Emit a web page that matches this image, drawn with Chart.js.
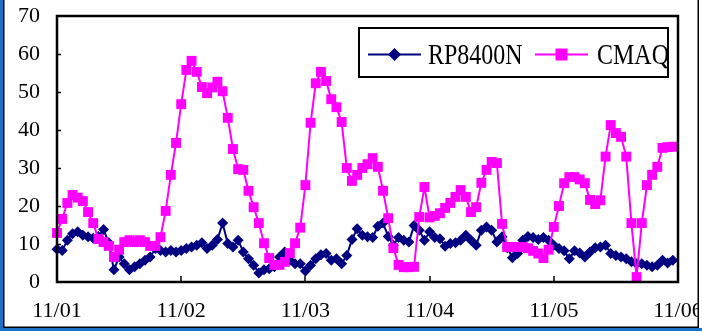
<!DOCTYPE html>
<html>
<head>
<meta charset="utf-8">
<script src="https://cdn.jsdelivr.net/npm/chart.js@4"></script>
<style>
  html, body { margin: 0; padding: 0; background: #fff; }
  canvas { display: block; }
</style>
</head>
<body>
<canvas id="chart" width="702" height="331"></canvas>
<script>
// hourly values, 11/01 00:00 .. 11/05 23:00
const rp8400n = [
  8.6, 8.3, 11, 12.7, 13.2, 12.3, 11.9, 11.5, 12, 13.8, 10.3, 3.2, 6.6, 4.8, 3.2, 4, 4.8, 5.7, 6.6, 8.8, 8.3, 7.9, 8.3, 7.9,
  8.3, 8.8, 9.2, 9.7, 10.3, 8.8, 9.7, 11.2, 15.5, 10.1, 9.2, 11, 7.9, 6.1, 4.4, 2.4, 3.2, 3.5, 4, 6.6, 7.9, 5.7, 4.8, 4.8,
  2.9, 4.4, 6.1, 7.2, 7.5, 5.7, 6.1, 4.8, 7, 11.2, 14, 12.3, 11.9, 11.7, 14.7, 15.5, 12, 9.7, 11.7, 11, 10.5, 14.9, 13.6, 11,
  13.2, 11.7, 11.4, 9.4, 10.1, 10.3, 11, 12.3, 11, 9.7, 13.6, 14.5, 13.6, 10.5, 11.9, 9, 6.4, 7.5, 11, 12, 11.7, 11.2, 11.7, 11,
  9.7, 8.8, 8.2, 6.1, 8.2, 7.6, 6.6, 7.9, 9, 9.2, 9.7, 7.5, 7, 6.6, 6.1, 5.3, 4.8, 4.8, 4.4, 4, 4.4, 5.7, 5, 5.7
];
const cmaq = [
  12.9, 16.6, 20.8, 22.9, 22.2, 21.3, 18.4, 15.5, 11.3, 10.5, 9.5, 6.6, 8.5, 10.5, 11, 10.5, 11, 10.5, 9.5, 9.5, 11.8, 18.7, 28.2, 36.6,
  46.8, 55.8, 58.2, 55.3, 51.3, 49.7, 51.2, 52.7, 50.2, 43.2, 35, 29.7, 29.5, 24, 19.7, 15.5, 10.2, 6.3, 4.5, 4.5, 5.3, 7.6, 10.2, 14.3,
  25.5, 41.9, 52.3, 55.3, 52.9, 48.1, 46, 42.1, 30, 26.6, 28.2, 30, 31, 32.6, 30.3, 24, 16.8, 8.9, 4.5, 3.9, 3.9, 4, 17.1, 25,
  17, 17.4, 18.1, 19.5, 20.8, 22.4, 24.2, 22.4, 18.4, 19.7, 26.1, 29.5, 31.6, 31.3, 15.3, 9.2, 9.2, 9.2, 9.2, 8.9, 8.2, 7.5, 6.3, 8.5,
  14.5, 20, 26, 27.6, 27.6, 27, 26, 21.6, 20.5, 21.5, 33, 41.3, 39.2, 38.2, 33, 15.5, 1.3, 15.5, 25.5, 28.2, 30.3, 35.3, 35.5, 35.6
];
const dayLabels = ['11/01', '11/02', '11/03', '11/04', '11/05', '11/06'];
const seriesNames = ['RP8400N', 'CMAQ'];

const serif = '"Liberation Serif", "Times New Roman", serif';

// plot border, inward tick marks, legend box and the picture frame
const decor = {
  id: 'decor',
  afterDraw(chart) {
    const ctx = chart.ctx;
    const a = chart.chartArea;
    const xs = chart.scales.x, ys = chart.scales.y;
    ctx.save();

    // inward ticks
    ctx.strokeStyle = '#000';
    ctx.lineWidth = 1.5;
    ctx.beginPath();
    ys.ticks.forEach(t => {
      if (t.value <= 0 || t.value >= 70) return;
      const y = Math.round(ys.getPixelForValue(t.value)) + 0.5;
      ctx.moveTo(a.left, y); ctx.lineTo(a.left + 4, y);
    });
    xs.ticks.forEach(t => {
      if (t.value <= 0 || t.value >= 120) return;
      const x = Math.round(xs.getPixelForValue(t.value));
      ctx.moveTo(x, a.bottom); ctx.lineTo(x, a.bottom - 6);
    });
    ctx.stroke();

    // plot border
    ctx.lineWidth = 2.5;
    ctx.strokeRect(a.left, a.top, a.right - a.left, a.bottom - a.top);

    // legend
    const lx = 359, ly = 28, lw = 309, lh = 49;
    ctx.fillStyle = '#fff';
    ctx.fillRect(lx, ly, lw, lh);
    ctx.lineWidth = 2;
    ctx.strokeRect(lx, ly, lw, lh);
    const items = [
      { x0: 368, x1: 421, mx: 394.5, tx: 428 },
      { x0: 535, x1: 588, mx: 561.5, tx: 597 }
    ];
    chart.data.datasets.forEach((ds, i) => {
      const it = items[i];
      const cy = 54.5;
      ctx.strokeStyle = ds.borderColor;
      ctx.lineWidth = 2;
      ctx.beginPath();
      ctx.moveTo(it.x0, cy); ctx.lineTo(it.x1, cy);
      ctx.stroke();
      ctx.fillStyle = ds.borderColor;
      ctx.beginPath();
      if (ds.pointStyle === 'rectRot') {
        const r = 6.5;
        ctx.moveTo(it.mx, cy - r); ctx.lineTo(it.mx + r, cy);
        ctx.lineTo(it.mx, cy + r); ctx.lineTo(it.mx - r, cy);
        ctx.closePath();
      } else {
        ctx.rect(it.mx - 6, cy - 6, 12, 12);
      }
      ctx.fill();
      ctx.save();
      ctx.translate(it.tx, 64);
      ctx.scale(0.8, 1);
      ctx.fillStyle = '#000';
      ctx.font = '30px ' + serif;
      ctx.textBaseline = 'alphabetic';
      ctx.fillText(ds.label, 0, 0);
      ctx.restore();
    });

    // outer frame
    ctx.fillStyle = '#fff';
    ctx.fillRect(699, 0, 3, 331);
    ctx.fillStyle = '#000';
    ctx.fillRect(3, 0, 1.5, 328);
    ctx.fillRect(697.5, 0, 1.5, 328);
    ctx.fillRect(0, 326.5, 699, 1.5);
    ctx.fillStyle = '#1a73c8';
    ctx.fillRect(0, 0, 3, 331);
    ctx.fillRect(0, 328, 702, 3);
    ctx.restore();
  }
};

const ctx = document.getElementById('chart').getContext('2d');
new Chart(ctx, {
  type: 'line',
  data: {
    datasets: [{
      label: seriesNames[0],
      data: rp8400n.map((v, i) => ({ x: i, y: v })),
      borderColor: '#000080',
      backgroundColor: '#000080',
      borderWidth: 2,
      pointStyle: 'rectRot',
      pointRadius: 5.5,
      pointBorderWidth: 0,
      pointHoverRadius: 5.5,
      tension: 0,
      clip: false,
      order: 1
    }, {
      label: seriesNames[1],
      data: cmaq.map((v, i) => ({ x: i, y: v })),
      borderColor: '#ff00ff',
      backgroundColor: '#ff00ff',
      borderWidth: 2,
      pointStyle: 'rect',
      pointRadius: 7,
      pointBorderWidth: 0,
      pointHoverRadius: 7,
      tension: 0,
      clip: false,
      order: 0
    }]
  },
  options: {
    responsive: false,
    animation: false,
    devicePixelRatio: 1,
    layout: { padding: { top: 16, right: 24, left: 0, bottom: 0 } },
    plugins: {
      legend: { display: false },
      tooltip: { enabled: false }
    },
    scales: {
      x: {
        type: 'linear',
        min: 0,
        max: 120,
        afterFit: (s) => { s.height = 49; s.paddingLeft = 0; s.paddingRight = 0; },
        grid: { display: false, drawTicks: false },
        border: { display: false },
        ticks: {
          stepSize: 24,
          autoSkip: false,
          maxRotation: 0,
          padding: 16,
          color: '#000',
          font: { family: serif, size: 22 },
          callback: (v) => dayLabels[v / 24]
        }
      },
      y: {
        min: 0,
        max: 70,
        afterFit: (s) => { s.width = 57; s.paddingTop = 0; s.paddingBottom = 0; },
        grid: { display: false, drawTicks: false },
        border: { display: false },
        ticks: {
          stepSize: 10,
          padding: 17,
          color: '#000',
          font: { family: serif, size: 22 }
        }
      }
    }
  },
  plugins: [decor]
});
</script>
</body>
</html>
